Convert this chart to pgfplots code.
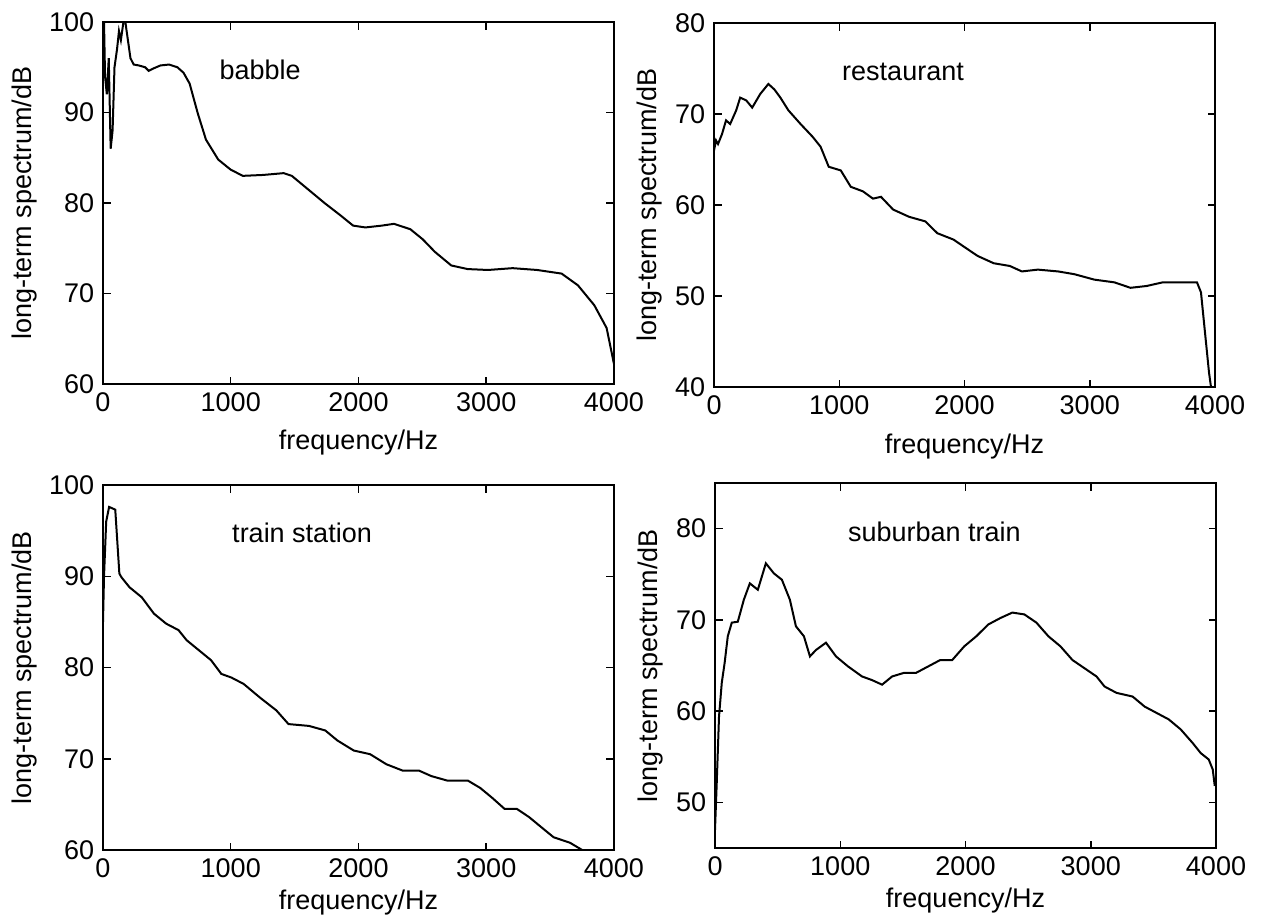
\documentclass[border=0pt]{standalone}
\usepackage{fontspec}
\setmainfont{Liberation Sans}
\usepackage{pgfplots}
\pgfplotsset{compat=1.18}

% 1 px of the reference = 0.4pt
\pgfplotsset{
  spec/.style={
    scale only axis,
    xmin=0, xmax=4000,
    xtick={0,1000,2000,3000,4000},
    tick align=inside,
    major tick length=3pt,
    axis line style={line width=1pt},
    every tick/.style={black,line width=0.6pt},
    /pgf/number format/assume math mode=true,
    /pgf/number format/set thousands separator={},
    tick label style={font=\fontsize{10.8}{12}\selectfont},
    label style={font=\fontsize{10.8}{12}\selectfont},
    xlabel={frequency/Hz},
    ylabel={long-term spectrum/dB},
    clip=true,
  },
  curve/.style={black, line width=0.8pt, mark=none},
}
\tikzset{ttl/.style={font=\fontsize{10.8}{12}\selectfont}}

\begin{document}
\begin{tikzpicture}
\useasboundingbox (0,0) rectangle (507.6pt,-366.8pt);

% babble
\begin{axis}[spec, at={(41.2pt,-8.8pt)}, anchor=north west,
  width=204.4pt, height=144.8pt, ymin=60, ymax=100, ytick={60,70,80,90,100},
  y label style={at={(axis description cs:-0.153,0.5)},anchor=center},
  x label style={at={(axis description cs:0.5,-0.163)},anchor=center}]
\addplot[curve] coordinates {
(0,94) (8,100) (16,94) (30,92) (45,96) (60,86) (75,88) (90,95) (110,97)
(125,99) (140,98) (160,100) (175,100) (190,98.5) (215,96) (240,95.3)
(280,95.2) (330,95) (358,94.6) (400,94.9) (450,95.2) (518,95.3) (582,95)
(630,94.4) (678,93.2) (742,89.9) (806,87) (902,84.8) (998,83.7) (1094,83)
(1254,83.1) (1414,83.3) (1478,83) (1606,81.5) (1734,80) (1862,78.6)
(1958,77.5) (2054,77.3) (2182,77.5) (2278,77.7) (2406,77.1) (2502,76)
(2598,74.6) (2726,73.1) (2854,72.7) (3014,72.6) (3206,72.8) (3398,72.6)
(3590,72.2) (3718,70.9) (3846,68.7) (3942,66.2) (3974,64) (4000,62.2)};
\node[ttl] at (axis cs:1230,94.7) {babble};
\end{axis}

% restaurant
\begin{axis}[spec, at={(285.6pt,-9.2pt)}, anchor=north west,
  width=200.4pt, height=145.6pt, ymin=40, ymax=80, ytick={40,50,60,70,80},
  y label style={at={(axis description cs:-0.128,0.5)},anchor=center},
  x label style={at={(axis description cs:0.5,-0.163)},anchor=center}]
\addplot[curve] coordinates {
(0,66) (16,67.1) (32,66.7) (64,67.8) (96,69.3) (129,68.9) (177,70.4)
(209,71.8) (257,71.5) (305,70.7) (369,72.2) (434,73.3) (482,72.7)
(530,71.8) (594,70.4) (691,68.9) (787,67.5) (851,66.4) (916,64.2)
(1012,63.8) (1092,62) (1189,61.5) (1269,60.7) (1333,60.9) (1430,59.5)
(1558,58.7) (1687,58.2) (1783,56.9) (1912,56.2) (2008,55.3) (2105,54.4)
(2233,53.6) (2362,53.3) (2458,52.7) (2586,52.9) (2747,52.7) (2876,52.4)
(3036,51.8) (3197,51.5) (3325,50.9) (3454,51.1) (3582,51.5) (3711,51.5)
(3856,51.5) (3888,50.4) (3920,46) (3952,41.6) (3968,40) (4000,38)};
\node[ttl] at (axis cs:1509,74.6) {restaurant};
\end{axis}

% train station
\begin{axis}[spec, at={(41.2pt,-194pt)}, anchor=north west,
  width=204.4pt, height=146pt, ymin=60, ymax=100, ytick={60,70,80,90,100},
  y label style={at={(axis description cs:-0.153,0.5)},anchor=center},
  x label style={at={(axis description cs:0.5,-0.145)},anchor=center}]
\addplot[curve] coordinates {
(0,85) (8,90) (25,96) (48,97.6) (96,97.3) (128,90.3) (144,89.9) (207,88.8)
(303,87.7) (399,85.9) (495,84.8) (591,84.1) (654,83) (750,81.9) (846,80.8)
(926,79.3) (1005,78.9) (1101,78.2) (1229,76.7) (1357,75.3) (1452,73.8)
(1612,73.6) (1740,73.1) (1835,72) (1963,70.9) (2091,70.5) (2218,69.4)
(2346,68.7) (2474,68.7) (2570,68.1) (2697,67.6) (2857,67.6) (2953,66.8)
(3048,65.7) (3144,64.5) (3240,64.5) (3336,63.6) (3431,62.5) (3527,61.4)
(3655,60.8) (3751,60) (3900,58.8) (4000,58)};
\node[ttl] at (axis cs:1558,94.8) {train station};
\end{axis}

% suburban train
\begin{axis}[spec, at={(286pt,-193.2pt)}, anchor=north west,
  width=200.4pt, height=146pt, ymin=45, ymax=85, ytick={50,60,70,80},
  y label style={at={(axis description cs:-0.128,0.5)},anchor=center},
  x label style={at={(axis description cs:0.5,-0.145)},anchor=center}]
\addplot[curve] coordinates {
(0,47) (13,51.8) (32,59.4) (54,63.1) (77,65.3) (102,68.2) (134,69.7)
(182,69.8) (230,72.2) (278,74) (342,73.3) (406,76.2) (470,75.1) (534,74.4)
(598,72.2) (646,69.3) (710,68.2) (758,66) (806,66.7) (886,67.5) (966,66)
(1062,64.9) (1174,63.8) (1254,63.4) (1334,62.9) (1414,63.8) (1510,64.2)
(1606,64.2) (1702,64.9) (1798,65.6) (1894,65.6) (1990,67.1) (2086,68.2)
(2182,69.5) (2278,70.2) (2374,70.8) (2470,70.6) (2566,69.7) (2662,68.2)
(2758,67.1) (2854,65.6) (2950,64.7) (3046,63.8) (3110,62.7) (3206,62)
(3334,61.6) (3430,60.5) (3526,59.8) (3622,59.1) (3718,58) (3814,56.5)
(3878,55.4) (3942,54.7) (3974,53.6) (3990,51.8)};
\node[ttl] at (axis cs:1752,79.6) {suburban train};
\end{axis}
\end{tikzpicture}
\end{document}
